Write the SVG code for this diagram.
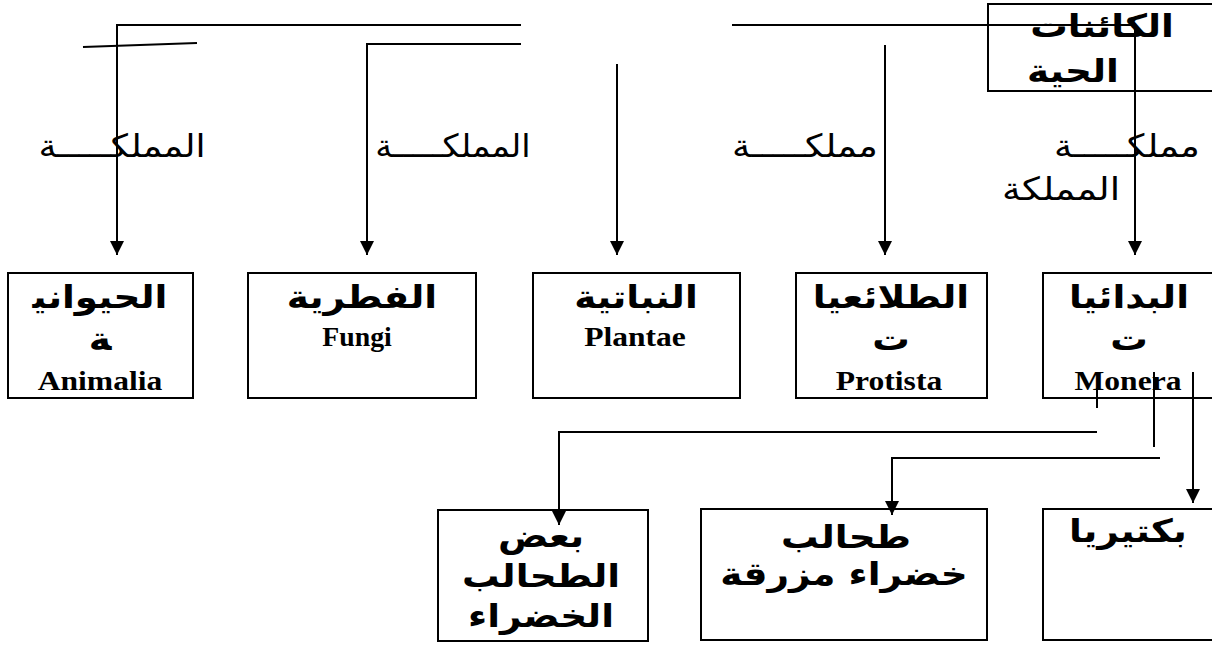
<svg xmlns="http://www.w3.org/2000/svg" width="1212" height="645" viewBox="0 0 1212 645">
  <style>
    .box { fill: #ffffff; stroke: #000000; stroke-width: 2; }
    .wire { fill: none; stroke: #000000; stroke-width: 2; }
    .ar { font-family: "DejaVu Sans", "Noto Sans", sans-serif; font-weight: bold; font-size: 32px; fill: #000; direction: rtl; text-anchor: middle; }
    .lbl { font-family: "DejaVu Sans", "Noto Sans", sans-serif; font-size: 32px; fill: #000; direction: rtl; text-anchor: middle; }
    .lat { font-family: "Liberation Serif", "Times New Roman", serif; font-weight: bold; font-size: 27px; fill: #000; text-anchor: middle; }
  </style>
  <defs>
    <marker id="arrow" markerWidth="14" markerHeight="14" refX="14" refY="7" orient="auto" markerUnits="userSpaceOnUse">
      <path d="M0,0 L14,7 L0,14 Z" fill="#000"/>
    </marker>
  </defs>
  <rect width="1212" height="645" fill="#ffffff"/>

  <!-- root node -->
  <g id="root">
    <rect class="box" x="988" y="4" width="240" height="87"/>
    <text class="ar" transform="translate(1102,37) scale(1.17,1)">الكائنات</text>
    <text class="ar" transform="translate(1073,82) scale(1.17,1)">الحية</text>
  </g>

  <!-- kingdom labels -->
  <g id="labels">
    <text class="lbl" transform="translate(122,157) scale(1.13,1)">المملكـــــة</text>
    <text class="lbl" transform="translate(453,157) scale(1.05,1)">المملكـــــة</text>
    <text class="lbl" transform="translate(805,157) scale(1.14,1)">مملكـــــة</text>
    <text class="lbl" transform="translate(1127,157) scale(1.14,1)">مملكـــــة</text>
    <text class="lbl" transform="translate(1061,200) scale(1.17,1)">المملكة</text>
  </g>

  <g id="animalia">
    <rect class="box" x="8" y="273" width="185" height="125"/>
    <text class="ar" transform="translate(100,308) scale(1.17,1)">الحيواني&#x200D;</text>
    <text class="ar" transform="translate(100,350) scale(1.17,1)">&#x200D;ة</text>
    <text class="lat" transform="translate(100,390) scale(1.17,1)">Animalia</text>
  </g>

  <g id="fungi">
    <rect class="box" x="248" y="273" width="228" height="125"/>
    <text class="ar" transform="translate(362,308) scale(1.17,1)">الفطرية</text>
    <text class="lat" transform="translate(357,346) scale(1.03,1)">Fungi</text>
  </g>

  <g id="plantae">
    <rect class="box" x="533" y="273" width="207" height="125"/>
    <text class="ar" transform="translate(636,308) scale(1.17,1)">النباتية</text>
    <text class="lat" transform="translate(635,346) scale(1.17,1)">Plantae</text>
  </g>

  <g id="protista">
    <rect class="box" x="796" y="273" width="191" height="125"/>
    <text class="ar" transform="translate(891,308) scale(1.17,1)">الطلائعيا</text>
    <text class="ar" transform="translate(891,350) scale(1.17,1)">ت</text>
    <text class="lat" transform="translate(889,390) scale(1.17,1)">Protista</text>
  </g>

  <g id="monera">
    <rect class="box" x="1043" y="273" width="180" height="125"/>
    <text class="ar" transform="translate(1129,308) scale(1.17,1)">البدائيا</text>
    <text class="ar" transform="translate(1129,350) scale(1.17,1)">ت</text>
    <text class="lat" transform="translate(1128,390) scale(1.17,1)">Monera</text>
  </g>

  <g id="green-algae">
    <rect class="box" x="438" y="510" width="210" height="131"/>
    <text class="ar" transform="translate(541,547) scale(1.17,1)">بعض</text>
    <text class="ar" transform="translate(541,587) scale(1.17,1)">الطحالب</text>
    <text class="ar" transform="translate(541,627) scale(1.17,1)">الخضراء</text>
  </g>

  <g id="blue-green-algae">
    <rect class="box" x="701" y="509" width="286" height="131"/>
    <text class="ar" transform="translate(846,548) scale(1.17,1)">طحالب</text>
    <text class="ar" transform="translate(844,585) scale(1.17,1)">خضراء مزرقة</text>
  </g>

  <g id="bacteria">
    <rect class="box" x="1043" y="509" width="180" height="131"/>
    <text class="ar" transform="translate(1128,542) scale(1.17,1)">بكتيريا</text>
  </g>

  <!-- connectors -->
  <g id="connectors">
    <path class="wire" d="M521,25 H117 V255" marker-end="url(#arrow)"/>
    <path class="wire" d="M83,47 L197,43"/>
    <path class="wire" d="M521,44 H367 V255" marker-end="url(#arrow)"/>
    <path class="wire" d="M617,64 V255" marker-end="url(#arrow)"/>
    <path class="wire" d="M885,45 V255" marker-end="url(#arrow)"/>
    <path class="wire" d="M732,25 H1135 V255" marker-end="url(#arrow)"/>
    <path class="wire" d="M1097,388 V408"/>
    <path class="wire" d="M1097,432 H559 V525" marker-end="url(#arrow)"/>
    <path class="wire" d="M1154,372 V447"/>
    <path class="wire" d="M1160,458 H892 V515" marker-end="url(#arrow)"/>
    <path class="wire" d="M1193,372 V503" marker-end="url(#arrow)"/>
  </g>
</svg>
